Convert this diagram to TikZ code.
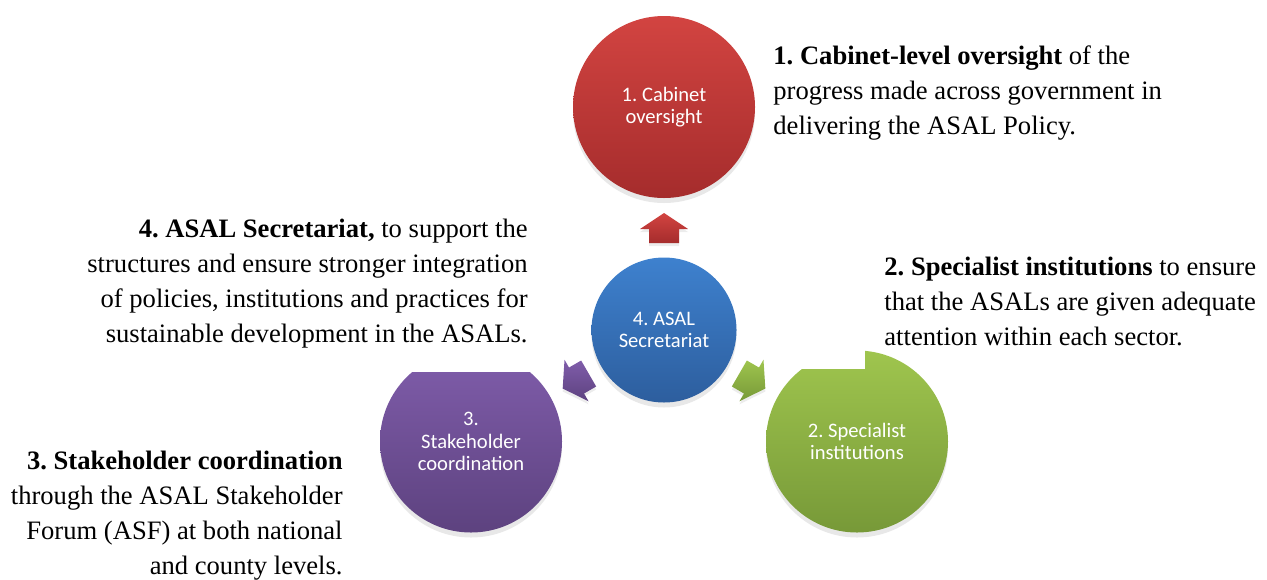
\documentclass[tikz,border=0pt]{standalone}
\usepackage{fontspec}
\setmainfont{Liberation Serif}
\newfontfamily\lblfont{Carlito}
\frenchspacing
\definecolor{cabtop}{RGB}{210, 68, 65}
\definecolor{cabbot}{RGB}{165, 44, 44}
\definecolor{sectop}{RGB}{62, 129, 206}
\definecolor{secbot}{RGB}{45, 94, 158}
\definecolor{stktop}{RGB}{128, 93, 171}
\definecolor{stkbot}{RGB}{93, 66, 127}
\definecolor{spctop}{RGB}{159, 197, 78}
\definecolor{spcbot}{RGB}{119, 153, 56}
\usetikzlibrary{shadows}

\begin{document}
\begin{tikzpicture}[x=0.5pt, y=-0.5pt,
    disc/.style={circle, text=white, align=center, inner sep=0pt,
      font=\lblfont\fontsize{10.3}{11.3}\selectfont,
      drop shadow={shadow xshift=0pt, shadow yshift=-2.5pt, opacity=0.18}},
    note/.style={inner sep=0pt, font=\fontsize{13.3}{17.5}\selectfont}]
    \useasboundingbox (0,0) rectangle (1267,579);

    % Centre and the three outer circles
    \node[disc, minimum size=72.5pt, top color=sectop, bottom color=secbot] (sec) at (664,330) {4. ASAL\\Secretariat};
    \node[disc, minimum size=91pt, top color=cabtop, bottom color=cabbot] (cab) at (664,107) {1. Cabinet\\oversight};
    \begin{scope}
        \clip (0,372) rectangle (1267,579);
        \node[disc, minimum size=91pt, top color=stktop, bottom color=stkbot] (stk) at (471,441.5) {3.\\Stakeholder\\coordination};
    \end{scope}
    \begin{scope}
        \clip (865,0) rectangle (1267,579) (0,369) rectangle (865,579);
        \node[disc, minimum size=91pt, top color=spctop, bottom color=spcbot] (spc) at (857,441.5) {2. Specialist\\institutions};
    \end{scope}

    % Block arrows from the centre
    \foreach \ang/\col in {0/cab, 120/stk, -120/spc}
        \shade[top color=\col top, bottom color=\col bot, shift={(sec.center)}, rotate=\ang,
               drop shadow={shadow xshift=0pt, shadow yshift=-1.5pt, opacity=0.15}]
            (0,-117) -- (24,-101) -- (15,-101) -- (15,-87) -- (-15,-87) -- (-15,-101) -- (-24,-101) -- cycle;

    % Descriptions
    \node[note, anchor=north west, align=left] (cabtxt) at (773,45.8)
        {\textbf{1. Cabinet-level oversight} of the\\progress made across government in\\delivering the ASAL Policy.};
    \node[note, anchor=north east, align=right] (sectxt) at (528,218.8)
        {\textbf{4. ASAL Secretariat,} to support the\\structures and ensure stronger integration\\of policies, institutions and practices for\\sustainable development in the ASALs.};
    \node[note, anchor=north west, align=left] (spctxt) at (884,256.8)
        {\textbf{2. Specialist institutions} to ensure\\that the ASALs are given adequate\\attention within each sector.};
    \node[note, anchor=north east, align=right] (stktxt) at (343,450.8)
        {\textbf{3. Stakeholder coordination}\\through the ASAL Stakeholder\\Forum (ASF) at both national\\and county levels.};
\end{tikzpicture}
\end{document}
